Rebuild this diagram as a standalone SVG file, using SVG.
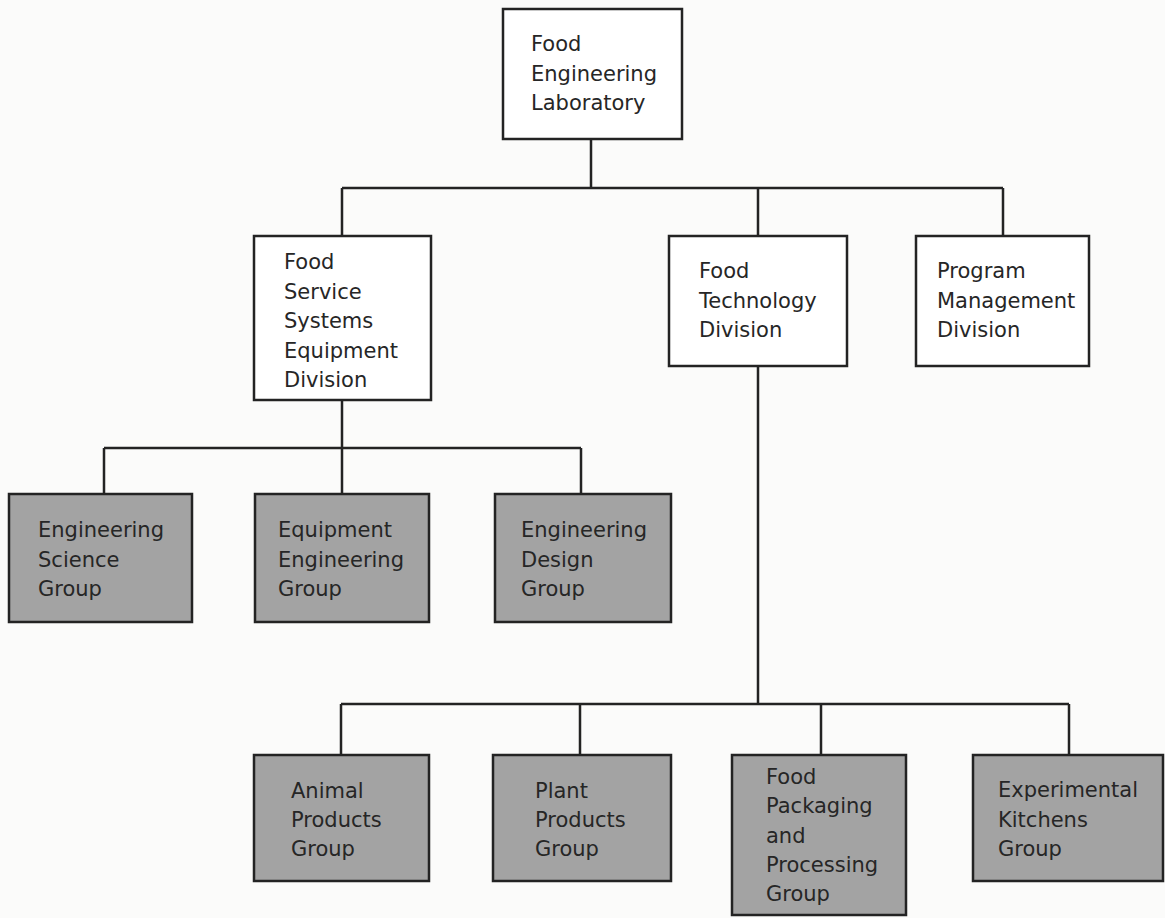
<svg xmlns="http://www.w3.org/2000/svg" width="1165" height="918" viewBox="0 0 1165 918">
<style>
.bg{fill:#fbfbfa}
.box{fill:#ffffff;stroke:#232323;stroke-width:2.5}
.grp{fill:#a3a3a3;stroke:#232323;stroke-width:2.5}
.lbl{font-family:"DejaVu Sans","Liberation Sans",sans-serif;font-size:21px;fill:#262626}
.con{fill:none;stroke:#232323;stroke-width:2.5}
</style>
<rect class="bg" x="0" y="0" width="1165" height="918"/>
<g id="connectors">
<path class="con" d="M591 139V188M342 188H1003M342 188V236M758 188V236M1003 188V236"/>
<path class="con" d="M342 400V494M104 448H581M104 448V494M581 448V494"/>
<path class="con" d="M758 366V704M341 704H1069M341 704V755M580 704V755M821 704V755M1069 704V755"/>
</g>
<g id="food-engineering-laboratory">
<rect class="box" x="503" y="9" width="179" height="130"/>
<text class="lbl" x="531" y="51">Food</text>
<text class="lbl" x="531" y="80.5">Engineering</text>
<text class="lbl" x="531" y="110">Laboratory</text>
</g>
<g id="food-service-systems-equipment-division">
<rect class="box" x="254" y="236" width="177" height="164"/>
<text class="lbl" x="284" y="269">Food</text>
<text class="lbl" x="284" y="298.5">Service</text>
<text class="lbl" x="284" y="328">Systems</text>
<text class="lbl" x="284" y="357.5">Equipment</text>
<text class="lbl" x="284" y="387">Division</text>
</g>
<g id="food-technology-division">
<rect class="box" x="669" y="236" width="178" height="130"/>
<text class="lbl" x="699" y="278">Food</text>
<text class="lbl" x="699" y="307.5">Technology</text>
<text class="lbl" x="699" y="337">Division</text>
</g>
<g id="program-management-division">
<rect class="box" x="916" y="236" width="173" height="130"/>
<text class="lbl" x="937" y="278">Program</text>
<text class="lbl" x="937" y="307.5">Management</text>
<text class="lbl" x="937" y="337">Division</text>
</g>
<g id="engineering-science-group">
<rect class="grp" x="9" y="494" width="183" height="128"/>
<text class="lbl" x="38" y="537">Engineering</text>
<text class="lbl" x="38" y="566.5">Science</text>
<text class="lbl" x="38" y="596">Group</text>
</g>
<g id="equipment-engineering-group">
<rect class="grp" x="255" y="494" width="174" height="128"/>
<text class="lbl" x="278" y="537">Equipment</text>
<text class="lbl" x="278" y="566.5">Engineering</text>
<text class="lbl" x="278" y="596">Group</text>
</g>
<g id="engineering-design-group">
<rect class="grp" x="495" y="494" width="176" height="128"/>
<text class="lbl" x="521" y="537">Engineering</text>
<text class="lbl" x="521" y="566.5">Design</text>
<text class="lbl" x="521" y="596">Group</text>
</g>
<g id="animal-products-group">
<rect class="grp" x="254" y="755" width="175" height="126"/>
<text class="lbl" x="291" y="798">Animal</text>
<text class="lbl" x="291" y="827">Products</text>
<text class="lbl" x="291" y="856">Group</text>
</g>
<g id="plant-products-group">
<rect class="grp" x="493" y="755" width="178" height="126"/>
<text class="lbl" x="535" y="798">Plant</text>
<text class="lbl" x="535" y="827">Products</text>
<text class="lbl" x="535" y="856">Group</text>
</g>
<g id="food-packaging-and-processing-group">
<rect class="grp" x="732" y="755" width="174" height="160"/>
<text class="lbl" x="766" y="784">Food</text>
<text class="lbl" x="766" y="813">Packaging</text>
<text class="lbl" x="766" y="842.5">and</text>
<text class="lbl" x="766" y="872">Processing</text>
<text class="lbl" x="766" y="901">Group</text>
</g>
<g id="experimental-kitchens-group">
<rect class="grp" x="973" y="755" width="190" height="126"/>
<text class="lbl" x="998" y="797">Experimental</text>
<text class="lbl" x="998" y="827">Kitchens</text>
<text class="lbl" x="998" y="856">Group</text>
</g>
</svg>
